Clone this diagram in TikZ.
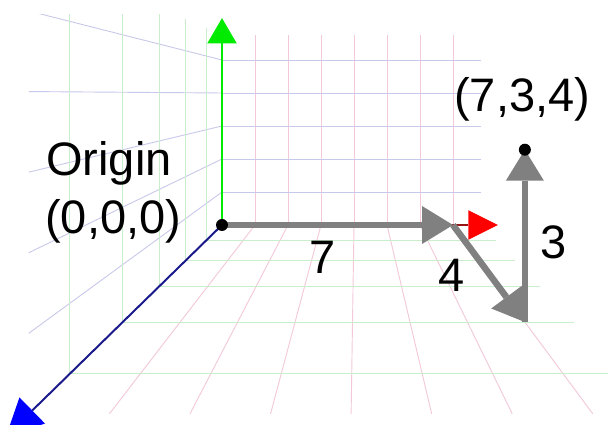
\documentclass[tikz,border=0pt]{standalone}
\usepackage{fontspec}
\setmainfont{Liberation Sans}
\usepackage{xcolor}
\usepackage{tikz}
\usetikzlibrary{arrows.meta}
\definecolor{AxisRed}{RGB}{255, 0, 0}
\definecolor{AxisDarkRed}{RGB}{150, 20, 20}
\definecolor{AxisGreen}{RGB}{0, 235, 0}
\definecolor{AxisBlue}{RGB}{0, 0, 255}
\definecolor{AxisNavy}{RGB}{25, 25, 140}
\definecolor{VecGray}{RGB}{128, 128, 128}
\definecolor{GridPink}{RGB}{242, 200, 218}
\definecolor{GridLilac}{RGB}{200, 200, 234}
\definecolor{GridGreen}{RGB}{200, 238, 204}

\tikzset{
  % screen position of (x,y,z): one step is 33px on the back wall
  declare function={px(\a,\b,\c)=356+(33*\a-134)/(1-\c/9.4);
                    py(\a,\b,\c)=94+(131-33*\b)/(1-\c/9.4);},
  gridx/.style={GridPink, line width=0.65pt},
  gridy/.style={GridLilac, line width=0.65pt},
  gridz/.style={GridGreen, line width=0.65pt},
  vec/.style={VecGray, line width=4.6pt, -{Triangle[length=22pt, width=27pt, line width=0pt]}},
  lbl/.style={font=\fontsize{33.4}{40}\selectfont, inner sep=0pt}
}

\begin{document}
\begin{tikzpicture}[x=0.025cm, y=-0.025cm]
    \path[use as bounding box] (0,0) rectangle (608,425);

    % grid on the three planes
    \begin{scope}
      \clip (0,15) rectangle (608,425);
      \foreach \i in {1,...,7} {
        \draw[gridx] ({px(\i,0,0)},{py(\i,0,0)}) -- ({px(\i,5.75,0)},{py(\i,5.75,0)});
        \draw[gridx] ({px(\i,0,0)},{py(\i,0,0)}) -- ({px(\i,0,5.55)},{py(\i,0,5.55)});
      }
      \foreach \j in {1,...,5} {
        \draw[gridy] ({px(0,\j,0)},{py(0,\j,0)}) -- ({px(7.85,\j,0)},{py(7.85,\j,0)});
        \draw[gridy] ({px(0,\j,0)},{py(0,\j,0)}) -- ({px(0,\j,5.55)},{py(0,\j,5.55)});
      }
      \foreach \k in {1,...,5} {
        \draw[gridz] ({px(0,0,\k)},{py(0,0,\k)}) -- ({px(0,5.75,\k)},{py(0,5.75,\k)});
        \draw[gridz] ({px(0,0,\k)},{py(0,0,\k)}) -- ({px(7.85,0,\k)},{py(7.85,0,\k)});
      }
    \end{scope}

    \coordinate (O) at ({px(0,0,0)},{py(0,0,0)});
    \coordinate (xtip) at ({px(8.36,0,0)},{py(8.36,0,0)});
    \coordinate (ytip) at ({px(0,6.27,0)},{py(0,6.27,0)});
    \coordinate (ztip) at ({px(0,0,5.8)},{py(0,0,5.8)});
    \coordinate (Px) at ({px(7,0,0)},{py(7,0,0)});
    \coordinate (Pxz) at ({px(7,0,4)},{py(7,0,4)});
    \coordinate (P) at ({px(7,3,4)},{py(7,3,4)});

    % axes
    \draw[AxisDarkRed, line width=1.4pt, -{Triangle[length=21pt, width=21pt, line width=0pt, color=AxisRed]}] (O) -- (xtip);
    \draw[AxisGreen, line width=2pt, -{Triangle[length=18pt, width=21pt, line width=0pt]}] (O) -- (ytip);
    \begin{scope}
      \clip (0,0) rectangle (608,425);
      \draw[AxisNavy, line width=1.4pt, -{Triangle[length=26pt, width=26pt, line width=0pt, color=AxisBlue]}] (O) -- (ztip);
    \end{scope}

    % the three steps to the point
    \draw[vec] (O) -- (Px);
    \draw[vec] (Px) -- (Pxz);
    \draw[vec] (Pxz) -- (P);
    \fill[black] (O) circle (6);
    \fill[black] (P) circle (6);

    \node[lbl, anchor=base west] (origintxt) at (46,176) {Origin};
    \node[lbl, anchor=base west] (origincoord) at (45,234) {(0,0,0)};
    \node[lbl, anchor=base west] (pointcoord) at (454,112) {(7,3,4)};
    \node[lbl, anchor=base] (lblseven) at (323,274) {7};
    \node[lbl, anchor=base] (lblfour) at (452,292) {4};
    \node[lbl, anchor=base] (lblthree) at (554,259) {3};
  \end{tikzpicture}
\end{document}
